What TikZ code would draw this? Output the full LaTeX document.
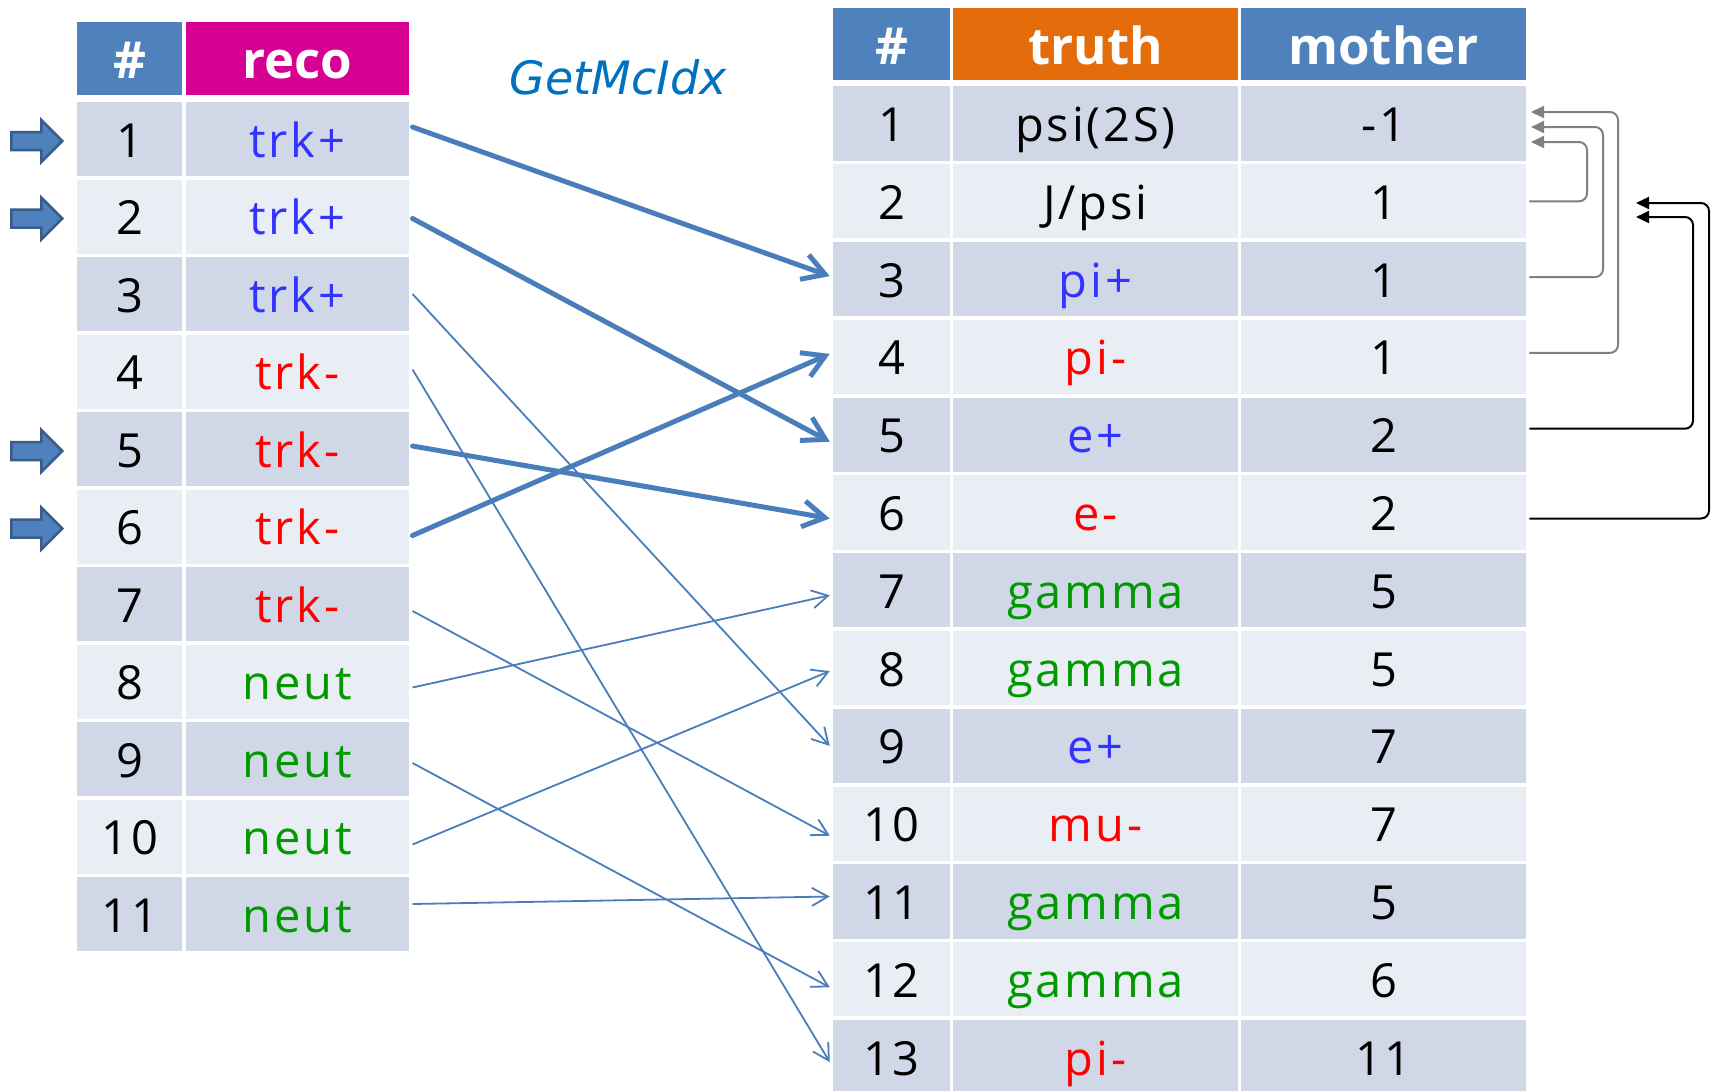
\documentclass[tikz,border=0pt]{standalone}
\usepackage{fontspec}
\setmainfont{Open Sans}
\newfontfamily\cellfont[LetterSpace=6]{Open Sans}
\newfontfamily\gmfont{DejaVu Sans}
\usetikzlibrary{arrows.meta,calc}
\definecolor{hdrblue}{HTML}{4F81BD}
\definecolor{hdrmag}{RGB}{214,0,147}
\definecolor{hdrorange}{HTML}{E46C0A}
\definecolor{rowdark}{HTML}{D0D8E8}
\definecolor{rowlight}{HTML}{E9EDF4}
\definecolor{txtblue}{RGB}{51,51,255}
\definecolor{txtred}{RGB}{255,0,0}
\definecolor{txtgreen}{RGB}{0,153,0}
\definecolor{linkblue}{HTML}{4A7EBB}
\definecolor{arrowedge}{HTML}{385D8A}
\definecolor{titleblue}{HTML}{0070C0}
\definecolor{conngray}{HTML}{808080}
\def\jpsi{J/psi}
\begin{document}
\begin{tikzpicture}[x=1pt,y=-1pt,
  cell/.style={draw=white, line width=3.5pt, inner sep=0pt, text height=36pt, text depth=0pt,
    font=\cellfont\fontsize{47}{56}\selectfont, minimum height=77.5pt},
  rcell/.style={cell, minimum height=77.8pt},
  hdr/.style={cell, text=white, font=\fontsize{51}{60}\selectfont\bfseries, text height=40pt, minimum height=76pt},
  linkthick/.style={draw=linkblue, line width=5pt, line cap=round,
    -{Straight Barb[length=22pt,width=26pt,line width=5pt]}},
  linkthin/.style={draw=linkblue, line width=1.8pt,
    -{Straight Barb[length=16pt,width=18pt,line width=1.8pt]}},
  blockarrow/.style={fill=hdrblue, draw=arrowedge, line width=2.5pt},
  grayconn/.style={draw=conngray, line width=2pt, rounded corners=8pt, -{Triangle[length=13pt,width=12pt]}},
  blackconn/.style={draw=black, line width=2pt, rounded corners=8pt, -{Triangle[length=13pt,width=12pt]}}
]
\useasboundingbox (0,0) rectangle (1715,1090);
\clip (0,0) rectangle (1715,1090);

% ---------- left table ----------
\node[hdr, fill=hdrblue, minimum width=108.5pt] (lhn) at (129.75,58.5) {\#};
\node[hdr, fill=hdrmag, minimum width=226.75pt] (lhr) at (297.4,58.5) {reco};
\foreach \i/\txt/\col in {1/trk+/txtblue,2/trk+/txtblue,3/trk+/txtblue,4/trk-/txtred,5/trk-/txtred,
    6/trk-/txtred,7/trk-/txtred,8/neut/txtgreen,9/neut/txtgreen,10/neut/txtgreen,11/neut/txtgreen}{
  \pgfmathsetmacro\yy{139+77.5*(\i-1)}
  \pgfmathtruncatemacro\odd{mod(\i,2)}
  \ifnum\odd=1 \def\fc{rowdark}\else\def\fc{rowlight}\fi
  \node[cell, fill=\fc, minimum width=108.5pt] (ln\i) at (129.75,\yy) {\i};
  \node[cell, fill=\fc, minimum width=226.75pt, text=\col] (lr\i) at (297.4,\yy) {\txt};
}

% ---------- right table ----------
\node[hdr, fill=hdrblue, minimum width=120pt, minimum height=75.5pt] (thn) at (891.5,44) {\#};
\node[hdr, fill=hdrorange, minimum width=288pt, minimum height=75.5pt] (tht) at (1095.5,44) {truth};
\node[hdr, fill=hdrblue, minimum width=288pt, minimum height=75.5pt] (thm) at (1383.5,44) {mother};
\foreach \i/\txt/\col/\mo in {1/{psi(2S)}/black/{-1},2/\jpsi/black/1,3/pi+/txtblue/1,4/pi-/txtred/1,
    5/e+/txtblue/2,6/e-/txtred/2,7/gamma/txtgreen/5,8/gamma/txtgreen/5,9/e+/txtblue/7,
    10/mu-/txtred/7,11/gamma/txtgreen/5,12/gamma/txtgreen/6,13/pi-/txtred/11}{
  \pgfmathsetmacro\yy{123.5+77.8*(\i-1)}
  \pgfmathtruncatemacro\odd{mod(\i,2)}
  \ifnum\odd=1 \def\fc{rowdark}\else\def\fc{rowlight}\fi
  \node[rcell, fill=\fc, minimum width=120pt] (tn\i) at (891.5,\yy) {\i};
  \node[rcell, fill=\fc, minimum width=288pt, text=\col] (tt\i) at (1095.5,\yy) {\txt};
  \node[rcell, fill=\fc, minimum width=288pt] (tm\i) at (1383.5,\yy) {\mo};
}

% ---------- title ----------
\node[font=\gmfont\itshape\fontsize{46}{55}\selectfont, text=titleblue, inner sep=0pt] (title) at (618,77) {GetMcIdx};

% ---------- block arrows ----------
\foreach \i in {1,2,5,6}{
  \begin{scope}[shift={(ln\i.west)}]
    \draw[blockarrow] (-62.5,-7) -- (-32.5,-7) -- (-32.5,-19) -- (-11.5,2) -- (-32.5,23)
      -- (-32.5,11) -- (-62.5,11) -- cycle;
  \end{scope}
}

% ---------- reco -> truth links ----------
\foreach \a/\sa/\b/\sb in {3/0/9/0,4/2/13/-5,7/-7/10/-12,8/-6/7/-5,9/-4/12/-8,10/-8/8/-3,11/10/11/5}{
  \draw[linkthin] ([yshift=\sa pt]lr\a.east) -- ([yshift=\sb pt]tn\b.west);
}
\foreach \a/\sa/\b/\sb in {1/12/3/3,2/-2/5/-7,5/3/6/-6,6/-9/4/3}{
  \draw[linkthick] ([yshift=\sa pt]lr\a.east) -- ([yshift=\sb pt]tn\b.west);
}

% ---------- mother links ----------
\coordinate (g1) at (1531,142);
\coordinate (g2) at (1531,127);
\coordinate (g3) at (1531,112);
\coordinate (bk1) at (1636,217);
\coordinate (bk2) at (1636,203);
\draw[grayconn] (tm2.east) -| (1587,142) -- (g1);
\draw[grayconn] ([yshift=2pt]tm3.east) -| (1603,127) -- (g2);
\draw[grayconn] ([yshift=4pt]tm4.east) -| (1618,112) -- (g3);
\draw[blackconn] ([yshift=6pt]tm5.east) -| (1693,217) -- (bk1);
\draw[blackconn] ([yshift=-6pt]tm6.east) -| (1709,203) -- (bk2);
\end{tikzpicture}
\end{document}
